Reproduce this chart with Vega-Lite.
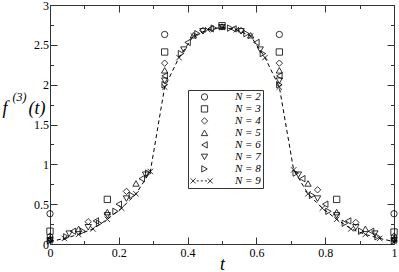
{
 "$schema": "https://vega.github.io/schema/vega-lite/v6.json",
 "width": 344, "height": 239,
 "autosize": {"type": "none"},
 "padding": {"left": 50, "top": 5, "right": 5, "bottom": 28},
 "background": "white",
 "config": {
  "view": {"stroke": null},
  "axis": {"grid": false, "labelFont": "Liberation Serif", "labelFontSize": 12, "labelColor": "black", "domainColor": "#333", "tickColor": "#333", "tickWidth": 1, "titleFont": "Liberation Serif", "titleFontStyle": "italic", "titleFontWeight": "normal", "titleColor": "black", "labelOverlap": false, "labelFlush": false}
 },
 "data": {"values": [
  {"n":2,"t":0,"f":0.38},{"n":2,"t":0.3333,"f":2.63},{"n":2,"t":0.6667,"f":2.63},{"n":2,"t":1,"f":0.38},
  {"n":3,"t":0,"f":0.16},{"n":3,"t":0.1667,"f":0.56},{"n":3,"t":0.3333,"f":2.41},{"n":3,"t":0.5,"f":2.74},{"n":3,"t":0.6667,"f":2.41},{"n":3,"t":0.8333,"f":0.56},{"n":3,"t":1,"f":0.15},
  {"n":4,"t":0,"f":0.10},{"n":4,"t":0.1111,"f":0.28},{"n":4,"t":0.2222,"f":0.66},{"n":4,"t":0.3333,"f":2.27},{"n":4,"t":0.4444,"f":2.68},{"n":4,"t":0.5556,"f":2.68},{"n":4,"t":0.6667,"f":2.27},{"n":4,"t":0.7778,"f":0.68},{"n":4,"t":0.8889,"f":0.27},{"n":4,"t":1,"f":0.10},
  {"n":5,"t":0,"f":0.07},{"n":5,"t":0.0833,"f":0.19},{"n":5,"t":0.1667,"f":0.40},{"n":5,"t":0.25,"f":0.76},{"n":5,"t":0.3333,"f":2.18},{"n":5,"t":0.4167,"f":2.62},{"n":5,"t":0.5,"f":2.73},{"n":5,"t":0.5833,"f":2.62},{"n":5,"t":0.6667,"f":2.18},{"n":5,"t":0.75,"f":0.76},{"n":5,"t":0.8333,"f":0.40},{"n":5,"t":0.9167,"f":0.19},{"n":5,"t":1,"f":0.07},
  {"n":6,"t":0,"f":0.055},{"n":6,"t":0.0667,"f":0.16},{"n":6,"t":0.1333,"f":0.29},{"n":6,"t":0.2,"f":0.50},{"n":6,"t":0.2667,"f":0.82},{"n":6,"t":0.3333,"f":2.11},{"n":6,"t":0.4,"f":2.53},{"n":6,"t":0.4667,"f":2.70},{"n":6,"t":0.5333,"f":2.70},{"n":6,"t":0.6,"f":2.53},{"n":6,"t":0.6667,"f":2.11},{"n":6,"t":0.7333,"f":0.82},{"n":6,"t":0.8,"f":0.50},{"n":6,"t":0.8667,"f":0.29},{"n":6,"t":0.9333,"f":0.16},{"n":6,"t":1,"f":0.055},
  {"n":7,"t":0,"f":0.045},{"n":7,"t":0.0556,"f":0.13},{"n":7,"t":0.1111,"f":0.21},{"n":7,"t":0.1667,"f":0.36},{"n":7,"t":0.2222,"f":0.57},{"n":7,"t":0.2778,"f":0.87},{"n":7,"t":0.3333,"f":2.05},{"n":7,"t":0.3889,"f":2.44},{"n":7,"t":0.4444,"f":2.67},{"n":7,"t":0.5,"f":2.72},{"n":7,"t":0.5556,"f":2.67},{"n":7,"t":0.6111,"f":2.44},{"n":7,"t":0.6667,"f":2.05},{"n":7,"t":0.7222,"f":0.87},{"n":7,"t":0.7778,"f":0.57},{"n":7,"t":0.8333,"f":0.36},{"n":7,"t":0.8889,"f":0.21},{"n":7,"t":0.9444,"f":0.13},{"n":7,"t":1,"f":0.045},
  {"n":8,"t":0,"f":0.04},{"n":8,"t":0.0476,"f":0.09},{"n":8,"t":0.0952,"f":0.16},{"n":8,"t":0.1429,"f":0.26},{"n":8,"t":0.1905,"f":0.41},{"n":8,"t":0.2381,"f":0.61},{"n":8,"t":0.2857,"f":0.89},{"n":8,"t":0.3333,"f":2.00},{"n":8,"t":0.381,"f":2.39},{"n":8,"t":0.4286,"f":2.64},{"n":8,"t":0.4762,"f":2.71},{"n":8,"t":0.5238,"f":2.71},{"n":8,"t":0.5714,"f":2.64},{"n":8,"t":0.619,"f":2.39},{"n":8,"t":0.6667,"f":2.00},{"n":8,"t":0.7143,"f":0.89},{"n":8,"t":0.7619,"f":0.61},{"n":8,"t":0.8095,"f":0.41},{"n":8,"t":0.8571,"f":0.26},{"n":8,"t":0.9048,"f":0.16},{"n":8,"t":0.9524,"f":0.09},{"n":8,"t":1,"f":0.04},
  {"n":9,"t":0,"f":0.03},{"n":9,"t":0.0417,"f":0.07},{"n":9,"t":0.0833,"f":0.12},{"n":9,"t":0.125,"f":0.19},{"n":9,"t":0.1667,"f":0.31},{"n":9,"t":0.2083,"f":0.45},{"n":9,"t":0.25,"f":0.63},{"n":9,"t":0.2917,"f":0.91},{"n":9,"t":0.3333,"f":1.97},{"n":9,"t":0.375,"f":2.34},{"n":9,"t":0.4167,"f":2.61},{"n":9,"t":0.4583,"f":2.69},{"n":9,"t":0.5,"f":2.72},{"n":9,"t":0.5417,"f":2.69},{"n":9,"t":0.5833,"f":2.61},{"n":9,"t":0.625,"f":2.34},{"n":9,"t":0.6667,"f":1.97},{"n":9,"t":0.7083,"f":0.93},{"n":9,"t":0.75,"f":0.63},{"n":9,"t":0.7917,"f":0.45},{"n":9,"t":0.8333,"f":0.31},{"n":9,"t":0.875,"f":0.19},{"n":9,"t":0.9167,"f":0.12},{"n":9,"t":0.9583,"f":0.07},{"n":9,"t":1,"f":0.03}
 ]},
 "layer": [
  {
   "transform": [{"filter": "datum.n < 9"}],
   "mark": {"type": "point", "filled": false, "stroke": "black", "strokeWidth": 0.8, "size": 40, "opacity": 1, "clip": false},
   "encoding": {
    "x": {"field": "t", "type": "quantitative", "scale": {"domain": [0, 1], "nice": false, "zero": false},
     "axis": {"orient": "bottom", "values": [0,0.1,0.2,0.3,0.4,0.5,0.6,0.7,0.8,0.9,1],
      "tickSize": {"condition": {"test": "round(datum.value*10)%2==0", "value": -7}, "value": -3.5},
      "labelExpr": "round(datum.value*10)%2==0 ? format(datum.value,'~g') : ''",
      "labelPadding": 10, "title": "t", "titleFontSize": 18, "titleBaseline": "bottom", "titleY": 29}},
    "y": {"field": "f", "type": "quantitative", "scale": {"domain": [0, 3], "nice": false, "zero": false},
     "axis": {"orient": "left", "values": [0,0.25,0.5,0.75,1,1.25,1.5,1.75,2,2.25,2.5,2.75,3],
      "tickSize": {"condition": {"test": "round(datum.value*4)%2==0", "value": -7}, "value": -3.5},
      "labelExpr": "round(datum.value*4)%2==0 ? format(datum.value,'~g') : ''",
      "labelPadding": 8.5, "title": "f", "titleFontSize": 18, "titleAngle": 0, "titleAlign": "left", "titleBaseline": "alphabetic", "titleX": -48, "titleY": 108}},
    "shape": {"field": "n", "type": "nominal",
     "scale": {"domain": [2,3,4,5,6,7,8,9], "range": ["circle","square","diamond","triangle-up","triangle-left","triangle-down","triangle-right","M-4.4,-0.8L-2.8,0.8M-4.4,0.8L-2.8,-0.8M1,-0.8L2.6,0.8M1,0.8L2.6,-0.8M-2.5,0L-1.8,0M-1.2,0L-0.5,0M0.1,0L0.8,0"]},
     "legend": {"orient": "none", "legendX": 138, "legendY": 85, "title": null, "padding": 2, "strokeColor": "#333", "fillColor": "white",
      "symbolSize": 40, "symbolStrokeColor": "black", "symbolFillColor": "transparent", "symbolStrokeWidth": 0.8, "symbolOffset": 9, "labelOffset": 25,
      "labelFont": "Liberation Serif", "labelFontStyle": "italic", "labelFontSize": 11, "labelColor": "black", "rowPadding": 0, "columnPadding": 0, "clipHeight": 9.8,
      "labelExpr": "'N = ' + datum.label"}}
   }
  },
  {
   "transform": [{"filter": "datum.n == 9"}],
   "mark": {"type": "line", "stroke": "black", "strokeWidth": 1, "strokeDash": [4, 3], "clip": false},
   "encoding": {
    "x": {"field": "t", "type": "quantitative",
     "axis": {"orient": "top", "values": [0,0.1,0.2,0.3,0.4,0.5,0.6,0.7,0.8,0.9,1], "labels": false, "title": null,
      "tickSize": {"condition": {"test": "round(datum.value*10)%2==0", "value": -7}, "value": -3.5}}},
    "y": {"field": "f", "type": "quantitative",
     "axis": {"orient": "right", "values": [0,0.25,0.5,0.75,1,1.25,1.5,1.75,2,2.25,2.5,2.75,3], "labels": false,
      "title": "(3)", "titleFontSize": 12, "titleAngle": 0, "titleAlign": "left", "titleBaseline": "alphabetic", "titleX": -382, "titleY": 95,
      "tickSize": {"condition": {"test": "round(datum.value*4)%2==0", "value": -7}, "value": -3.5}}}
   }
  },
  {
   "transform": [{"filter": "datum.n == 9"}],
   "mark": {"type": "point", "shape": "M-1,-1L1,1M-1,1L1,-1", "filled": false, "stroke": "black", "strokeWidth": 0.8, "size": 30, "opacity": 1, "clip": false},
   "encoding": {
    "x": {"field": "t", "type": "quantitative", "axis": null},
    "y": {"field": "f", "type": "quantitative",
     "axis": {"orient": "left", "domain": false, "ticks": false, "labels": false,
      "title": "(t)", "titleFontSize": 18, "titleAngle": 0, "titleAlign": "left", "titleBaseline": "alphabetic", "titleX": -22, "titleY": 108}}
   }
  }
 ],
 "resolve": {"axis": {"x": "independent", "y": "independent"}}
}
